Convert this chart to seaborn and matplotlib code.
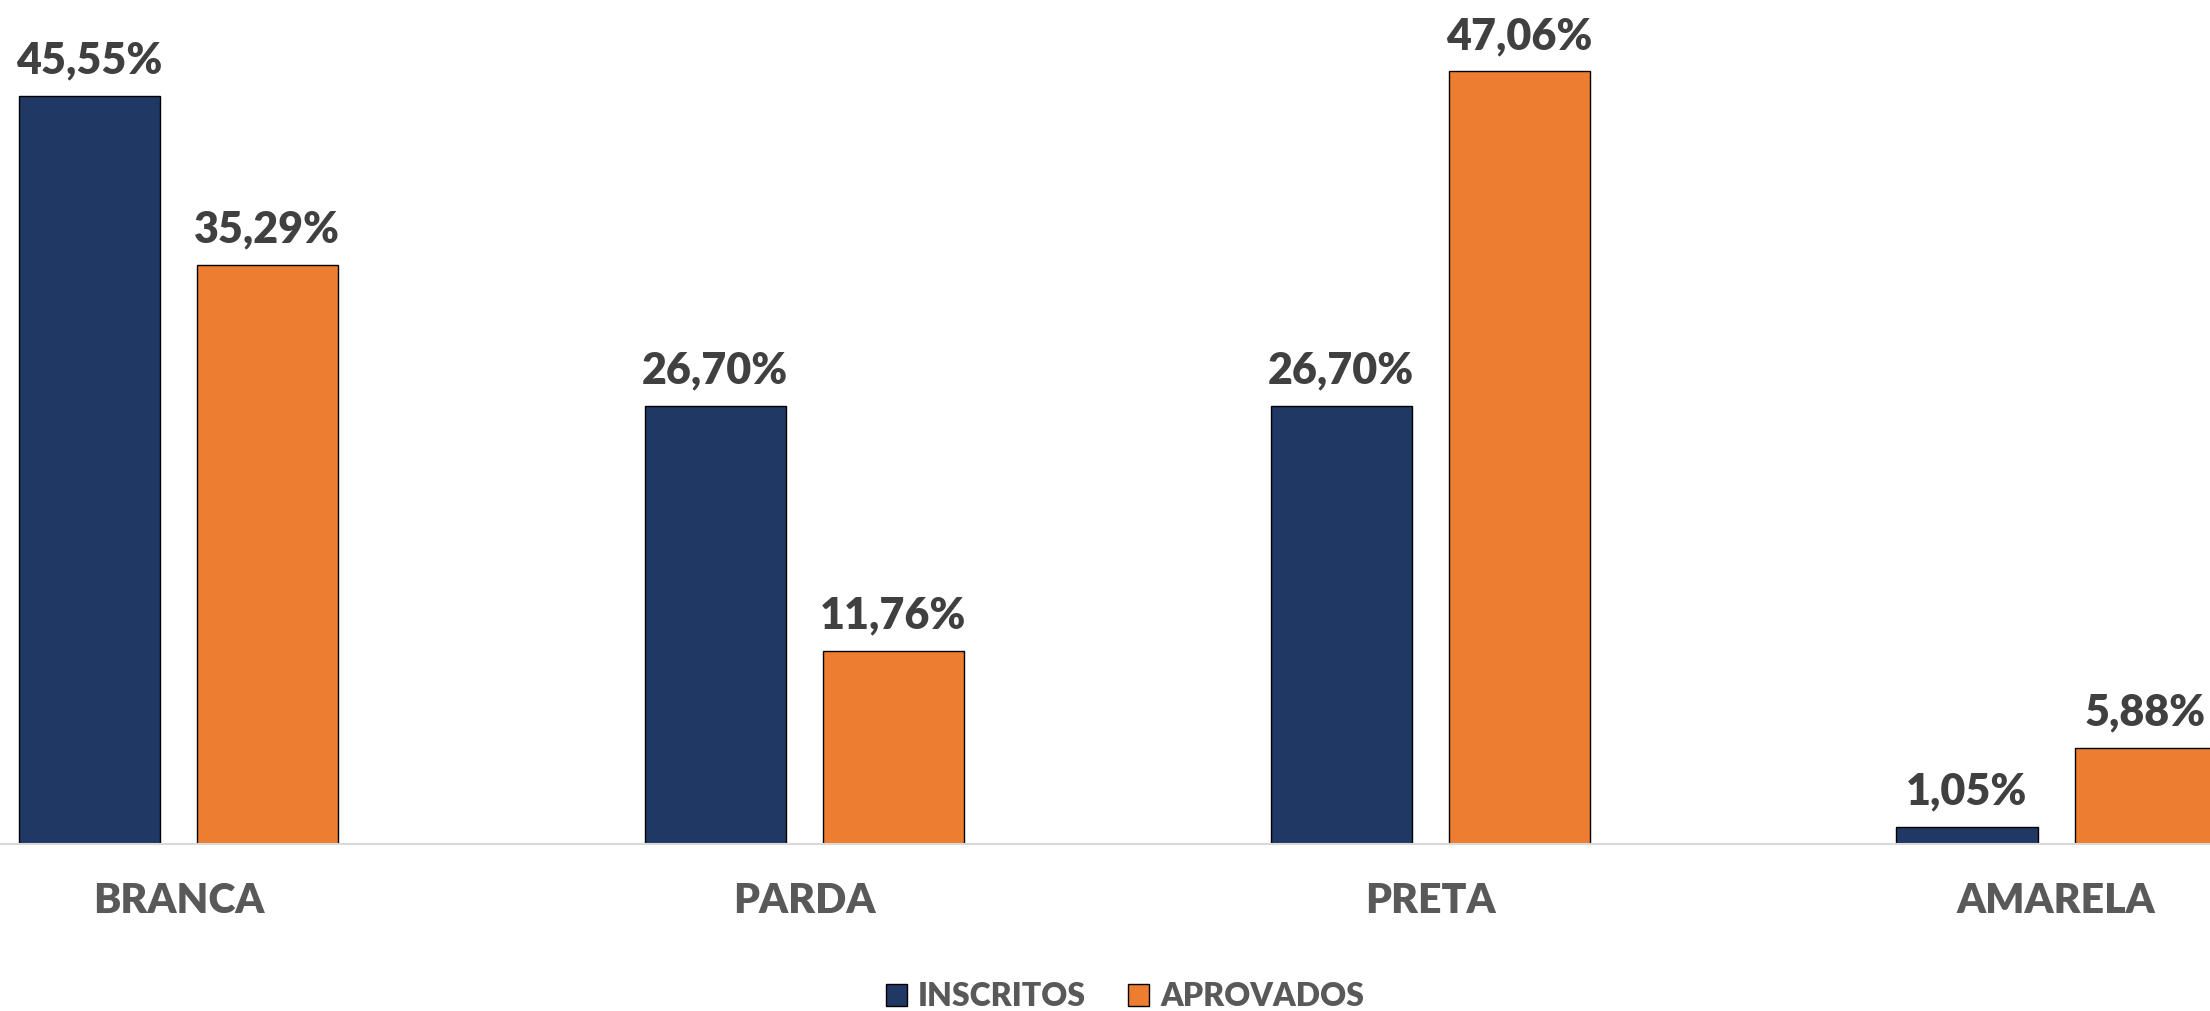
import matplotlib
matplotlib.use("Agg")
import matplotlib.pyplot as plt
import matplotlib.patches as mpatches
import pandas as pd
import seaborn as sns

# ── Data ──────────────────────────────────────────────────────────────────────
CATEGORIAS = ["BRANCA", "PARDA", "PRETA", "AMARELA"]
INSCRITOS  = [45.55, 26.70, 26.70, 1.05]
APROVADOS  = [35.29, 11.76, 47.06, 5.88]
SERIES     = ["INSCRITOS", "APROVADOS"]

NAVY   = "#1F3864"
ORANGE = "#ED7D31"
VAL_COLOR = "#404040"
CAT_COLOR = "#595959"
WEIGHT = 800

df = pd.DataFrame({
    "raca":  CATEGORIAS * 2,
    "grupo": [SERIES[0]] * len(CATEGORIAS) + [SERIES[1]] * len(CATEGORIAS),
    "pct":   INSCRITOS + APROVADOS,
})

sns.set_theme(style="white")
plt.rcParams["font.family"] = ["Lato", "DejaVu Sans"]

fig = plt.figure(figsize=(22.1, 10.11), dpi=100)
ax = fig.add_axes([0, 0.165, 1, 0.835])

sns.barplot(data=df, x="raca", y="pct", hue="grupo", order=CATEGORIAS,
            hue_order=SERIES, palette=[NAVY, ORANGE], saturation=1,
            width=0.569, gap=0.208, edgecolor="black", linewidth=1.0,
            ax=ax, legend=False)

# value labels, pt-BR decimal comma
for cont in ax.containers:
    labels = [f"{b.get_height():.2f}".replace(".", ",") + "%" for b in cont]
    ax.bar_label(cont, labels=labels, padding=11, fontsize=31,
                 fontweight=WEIGHT, color=VAL_COLOR, clip_on=False)

ax.set_xlim(-0.285, 3.246)
ax.set_ylim(0, 51.4)
ax.set_xlabel(""); ax.set_ylabel("")
ax.set_yticks([])
ax.tick_params(axis="x", length=0, pad=27, labelsize=29.5, labelcolor=CAT_COLOR)
for lab in ax.get_xticklabels():
    lab.set_fontweight(WEIGHT)

for s in ["left", "top", "right"]:
    ax.spines[s].set_visible(False)
ax.spines["bottom"].set_color("#D9D9D9")
ax.spines["bottom"].set_linewidth(1.5)

handles = [mpatches.Patch(facecolor=NAVY, edgecolor="black", linewidth=1.0, label=SERIES[0]),
           mpatches.Patch(facecolor=ORANGE, edgecolor="black", linewidth=1.0, label=SERIES[1])]
leg = fig.legend(handles=handles, loc="center", bbox_to_anchor=(0.509, 0.014),
                 ncol=2, frameon=False, fontsize=23, handlelength=0.66,
                 handleheight=0.66, handletextpad=0.34, columnspacing=1.34,
                 borderpad=0, borderaxespad=0)
for t in leg.get_texts():
    t.set_color(CAT_COLOR)
    t.set_fontweight(WEIGHT)

fig.savefig("out.png", dpi=100)
